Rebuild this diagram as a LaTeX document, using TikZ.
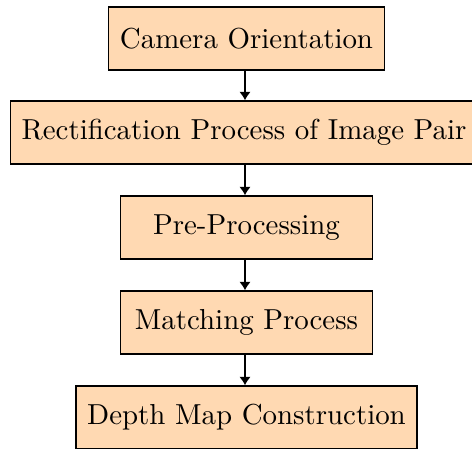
\documentclass[tikz,border=0pt]{standalone}
\usetikzlibrary{arrows.meta}
\begin{document}
\begin{tikzpicture}[x=0.346pt,y=-0.346pt,
  procbox/.style={draw=black, line width=0.5pt, fill=orange!30, minimum width=87pt, minimum height=21.8pt, inner xsep=3.9pt, font=\normalsize},
  flow/.style={line width=1pt, -{Latex[length=2.9pt,width=4pt]}}]
\useasboundingbox (0,0) rectangle (472,448);
\node[procbox] (cam) at (246.5,38.5) {Camera Orientation};
\node[procbox] (rect) at (244,132.5) {Rectification Process of Image Pair};
\node[procbox] (pre) at (246.5,227.5) {Pre-Processing};
\node[procbox] (match) at (246.5,322.5) {Matching Process};
\node[procbox] (depth) at (246.5,417.5) {Depth Map Construction};
\draw[flow] (cam.south -| 245,0) -- (rect.north -| 245,0);
\draw[flow] (rect.south -| 245,0) -- (pre.north -| 245,0);
\draw[flow] (pre.south -| 245,0) -- (match.north -| 245,0);
\draw[flow] (match.south -| 245,0) -- (depth.north -| 245,0);
\end{tikzpicture}
\end{document}
